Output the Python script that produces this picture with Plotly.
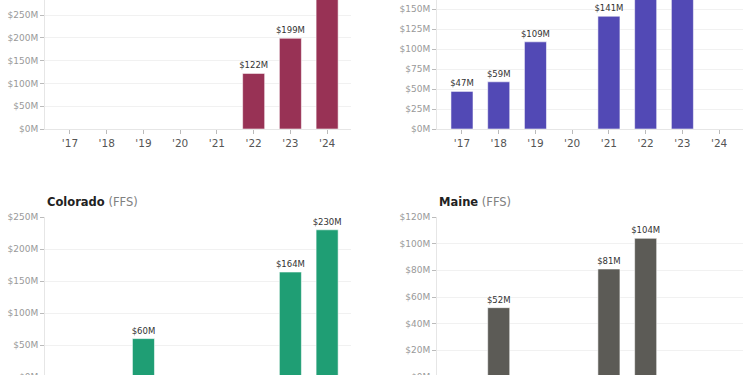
import plotly.graph_objects as go

years = ["'17", "'18", "'19", "'20", "'21", "'22", "'23", "'24"]

# values in $M; None = no bar
top_left_vals = [None, None, None, None, None, 122, 199, 320]
top_right_vals = [47, 59, 109, None, 141, 178, 192, None]
colorado_vals = [None, None, 60, None, None, None, 164, 230]
maine_vals = [None, 52, None, None, 81, 104, None, None]

colors = ["#983255", "#5249B5", "#1F9E74", "#5C5B56"]

W, H = 750, 420

def px_x(a, b):
    return [a / W, b / W]

def px_y(top, bottom):
    return [1 - bottom / H, 1 - top / H]

panels = [
    (top_left_vals, colors[0], px_x(45, 351), px_y(0, 129), [0, 283], 50),
    (top_right_vals, colors[1], px_x(437, 743), px_y(0, 129), [0, 161.3], 25),
    (colorado_vals, colors[2], px_x(45, 351), px_y(217, 377), [0, 250], 50),
    (maine_vals, colors[3], px_x(437, 743), px_y(217, 377), [0, 120], 20),
]

fig = go.Figure()
for i, (vals, col, xd, yd, yr, dt) in enumerate(panels, start=1):
    xa = "x" if i == 1 else f"x{i}"
    ya = "y" if i == 1 else f"y{i}"
    texts = [f"${v}M" if v is not None else "" for v in vals]
    fig.add_trace(go.Bar(
        x=years, y=vals, xaxis=xa, yaxis=ya,
        marker=dict(color=col, line=dict(color="rgba(255,255,255,0.55)", width=1)),
        text=texts, textposition="outside", cliponaxis=True,
        textfont=dict(size=8.5, color="#333333"),
        hoverinfo="skip", showlegend=False,
    ))
    axis_common = dict(showline=True, linecolor="#e6e6e6", linewidth=1,
                       ticks="outside", ticklen=4, tickcolor="#bbbbbb", automargin=False)
    fig.layout[f"xaxis{'' if i == 1 else i}"] = dict(
        domain=xd, anchor=ya, type="category", range=[-0.68, 7.65],
        showgrid=False, tickfont=dict(size=10.5, color="#555555"), **axis_common)
    fig.layout[f"yaxis{'' if i == 1 else i}"] = dict(
        domain=yd, anchor=xa, range=yr, dtick=dt, tickprefix="$", ticksuffix="M",
        showgrid=True, gridcolor="#f1f1f1", zeroline=False,
        tickfont=dict(size=9, color="#999999"), **axis_common)

for xp, name in [(45, "Colorado"), (437, "Maine")]:
    fig.add_annotation(xref="paper", yref="paper", x=xp / W, y=1 - 202 / H,
                       xanchor="left", yanchor="middle", showarrow=False,
                       text=f"<b>{name}</b> <span style='color:#808080'>(FFS)</span>",
                       font=dict(size=11.5, color="#222222"))

fig.update_layout(
    width=W, height=H, margin=dict(l=0, r=0, t=0, b=0),
    paper_bgcolor="white", plot_bgcolor="white", bargap=0.4,
    font=dict(family="DejaVu Sans"),
    uniformtext=dict(minsize=8.5, mode="show"),
)

fig.write_html("out.html", config={"displayModeBar": False},
               post_script="document.body.style.margin='0';document.body.style.overflow='hidden';")
